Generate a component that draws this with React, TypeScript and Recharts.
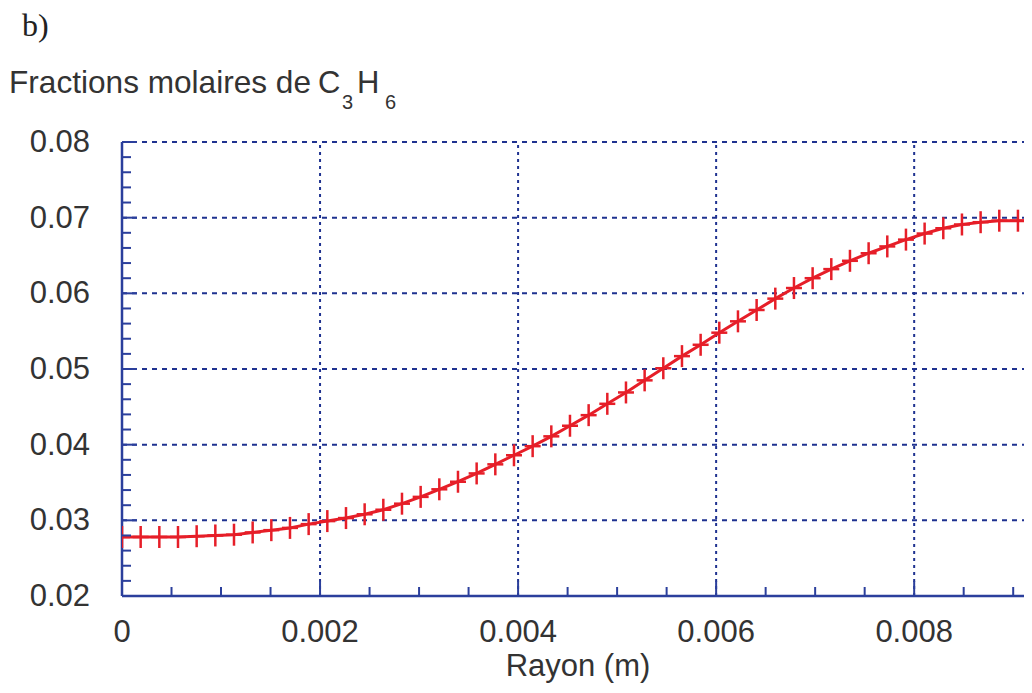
import * as React from "react";
import { LineChart, Line, XAxis, YAxis, ReferenceLine } from "recharts";

// radius (m) and C3H6 mole fraction
const radius = [
  0, 0.0001885, 0.000377, 0.0005655, 0.000754, 0.0009425, 0.001131, 0.0013195, 0.001508, 0.0016965,
  0.001885, 0.0020735, 0.002262, 0.0024505, 0.002639, 0.0028275, 0.003016, 0.0032045, 0.003393, 0.0035815,
  0.00377, 0.0039585, 0.004147, 0.0043355, 0.004524, 0.0047125, 0.004901, 0.0050895, 0.005278, 0.0054665,
  0.005655, 0.0058435, 0.006032, 0.0062205, 0.006409, 0.0065975, 0.006786, 0.0069745, 0.007163, 0.0073515,
  0.00754, 0.0077285, 0.007917, 0.0081055, 0.008294, 0.0084825, 0.008671, 0.0088595, 0.009048, 0.0092,
];
const fraction = [
  0.0278, 0.0278, 0.0278, 0.0278, 0.0279, 0.028, 0.0281, 0.0284, 0.0287, 0.029,
  0.0295, 0.0299, 0.0303, 0.0308, 0.0314, 0.0322, 0.0331, 0.0341, 0.0351, 0.0362,
  0.0374, 0.0386, 0.0398, 0.0411, 0.0425, 0.0439, 0.0454, 0.0469, 0.0485, 0.0501,
  0.0517, 0.0532, 0.0548, 0.0563, 0.0578, 0.0593, 0.0607, 0.062, 0.0632, 0.0643,
  0.0653, 0.0662, 0.0671, 0.0679, 0.0686, 0.0691, 0.0694, 0.0696, 0.0696, 0.0696,
];

const xTicks = [
  0, 0.0005, 0.001, 0.0015, 0.002, 0.0025, 0.003, 0.0035, 0.004, 0.0045,
  0.005, 0.0055, 0.006, 0.0065, 0.007, 0.0075, 0.008, 0.0085, 0.009,
];
const xMajor = [0, 0.002, 0.004, 0.006, 0.008];
const yTicks = [
  0.02, 0.022, 0.024, 0.026, 0.028, 0.03, 0.032, 0.034, 0.036, 0.038, 0.04,
  0.042, 0.044, 0.046, 0.048, 0.05, 0.052, 0.054, 0.056, 0.058, 0.06,
  0.062, 0.064, 0.066, 0.068, 0.07, 0.072, 0.074, 0.076, 0.078, 0.08,
];
const yMajor = [0.02, 0.03, 0.04, 0.05, 0.06, 0.07, 0.08];

const data = radius.map((r, i) => ({ r, v: fraction[i] }));

const AXIS = "#2b3f9c";
const GRID = "#1f3290";
const RED = "#e61e28";
const TXT = "#333";
const SANS = "'Liberation Sans', Arial, sans-serif";

const isMajor = (list: number[], v: number) => list.some((m) => Math.abs(m - v) < 1e-9);

function LeftTick(props: any) {
  const { x, y, payload } = props;
  const major = isMajor(yMajor, payload.value);
  return (
    <g>
      <line x1={x} x2={x + (major ? 15 : 9)} y1={y} y2={y} stroke={AXIS} strokeWidth={2} />
      {major && (
        <text x={x - 32} y={y + 10} textAnchor="end" fontSize={31} fontFamily={SANS} fill={TXT}>
          {payload.value.toFixed(2)}
        </text>
      )}
    </g>
  );
}

function RightTick(props: any) {
  const { x, y, payload } = props;
  const major = isMajor(yMajor, payload.value);
  return <line x1={x} x2={x - (major ? 15 : 8)} y1={y} y2={y} stroke={AXIS} strokeWidth={2} />;
}

function BottomTick(props: any) {
  const { x, y, payload } = props;
  const major = isMajor(xMajor, payload.value);
  return (
    <g>
      <line x1={x} x2={x} y1={y} y2={y - (major ? 15 : 9)} stroke={AXIS} strokeWidth={2} />
      {major && (
        <text x={x} y={y + 46} textAnchor="middle" fontSize={31} fontFamily={SANS} fill={TXT}>
          {payload.value === 0 ? "0" : payload.value.toFixed(3)}
        </text>
      )}
    </g>
  );
}

function PlusDot(props: any) {
  const { cx, cy, index } = props;
  if (index === radius.length - 1) return <g key={index} />;
  return (
    <g key={index}>
      <line x1={cx - 8} x2={cx + 8} y1={cy} y2={cy} stroke={RED} strokeWidth={2.5} />
      <line x1={cx} x2={cx} y1={cy - 11} y2={cy + 11} stroke={RED} strokeWidth={2.5} />
    </g>
  );
}

export default function App() {
  return (
    <div style={{ position: "relative", width: 1024, height: 685, overflow: "hidden" }}>
      <LineChart width={1030} height={685} data={data} margin={{ top: 134, right: 5, left: 34, bottom: 37 }}>
        <XAxis
          dataKey="r"
          type="number"
          domain={[0, 0.0092]}
          ticks={xTicks}
          interval={0}
          height={60}
          tickSize={0}
          tickMargin={0}
          tickLine={false}
          axisLine={{ stroke: AXIS, strokeWidth: 2.5 }}
          tick={<BottomTick />}
          allowDataOverflow
        />
        <YAxis
          yAxisId="l"
          type="number"
          domain={[0.02, 0.08]}
          ticks={yTicks}
          interval={0}
          width={80}
          tickSize={0}
          tickMargin={0}
          tickLine={false}
          axisLine={{ stroke: AXIS, strokeWidth: 2.5 }}
          tick={<LeftTick />}
        />
        <YAxis
          yAxisId="r"
          orientation="right"
          type="number"
          domain={[0.02, 0.08]}
          ticks={yTicks}
          interval={0}
          width={0}
          tickSize={0}
          tickMargin={0}
          tickLine={false}
          axisLine={{ stroke: AXIS, strokeWidth: 2.5 }}
          tick={<RightTick />}
        />
        {yMajor.slice(1).map((v) => (
          <ReferenceLine key={"h" + v} yAxisId="l" y={v} stroke={GRID} strokeWidth={2} strokeDasharray="5 5" />
        ))}
        {xMajor.slice(1).map((v) => (
          <ReferenceLine key={"v" + v} yAxisId="l" x={v} stroke={GRID} strokeWidth={2} strokeDasharray="3 4" />
        ))}
        <Line
          yAxisId="l"
          dataKey="v"
          type="linear"
          stroke={RED}
          strokeWidth={3}
          dot={PlusDot}
          isAnimationActive={false}
        />
      </LineChart>
      <svg width={1024} height={685} style={{ position: "absolute", left: 0, top: 0, pointerEvents: "none" }}>
        <text x={14} y={28} fontSize={32} fontFamily="'Liberation Serif', 'Times New Roman', serif" fill="#222">
          b)
        </text>
        <text x={1} y={85} fontSize={31.6} fontFamily={SANS} fill={TXT}>
          Fractions molaires de
        </text>
        <text x={310} y={85} fontSize={31} fontFamily={SANS} fill={TXT}>
          C
        </text>
        <text x={334} y={101} fontSize={20} fontFamily={SANS} fill={TXT}>
          3
        </text>
        <text x={349} y={85} fontSize={31} fontFamily={SANS} fill={TXT}>
          H
        </text>
        <text x={377} y={101} fontSize={20} fontFamily={SANS} fill={TXT}>
          6
        </text>
        <text x={570} y={668} textAnchor="middle" fontSize={31} fontFamily={SANS} fill={TXT}>
          Rayon (m)
        </text>
      </svg>
    </div>
  );
}
